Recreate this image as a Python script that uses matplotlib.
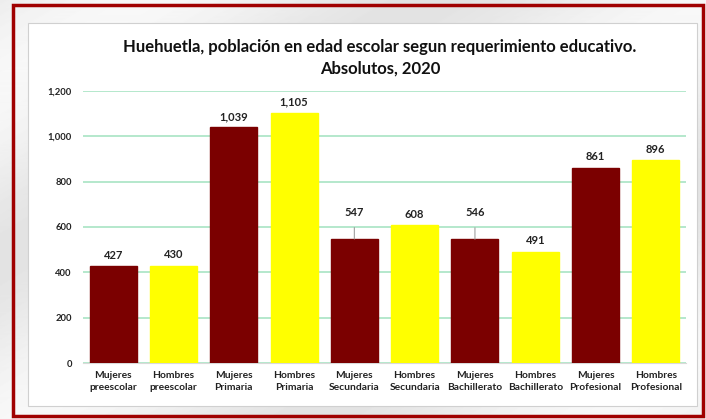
import numpy as np
import matplotlib.pyplot as plt
from matplotlib.patches import Rectangle

categorias = ["Mujeres\npreescolar", "Hombres\npreescolar", "Mujeres\nPrimaria", "Hombres\nPrimaria",
              "Mujeres\nSecundaria", "Hombres\nSecundaria", "Mujeres\nBachillerato", "Hombres\nBachillerato",
              "Mujeres\nProfesional", "Hombres\nProfesional"]
valores = [427, 430, 1039, 1105, 547, 608, 546, 491, 861, 896]
colores = ["#7b0000", "#ffff00"] * 5
# etiquetas que van despegadas con linea guia
guia = [False, False, False, False, True, False, True, False, False, False]

plt.rcParams['font.family'] = ['Lato', 'DejaVu Sans']

fig = plt.figure(figsize=(7.06, 4.19), dpi=100)
fig.patch.set_facecolor('#ececec')

# fondo con vetas grises suaves
bg = fig.add_axes([0, 0, 1, 1], zorder=-10)
yy, xx = np.mgrid[0:419, 0:706]
veta = 0.93 + 0.04 * np.sin((xx * 0.6 + yy) / 55.0)
bg.imshow(veta, cmap='gray', vmin=0, vmax=1, aspect='auto', extent=[0, 1, 0, 1])
bg.set_xlim(0, 1)
bg.set_ylim(0, 1)
bg.axis('off')

# marco rojo y caja blanca
bg.add_patch(Rectangle((13 / 706, 3 / 419), 690 / 706, 411 / 419, fill=False,
                       edgecolor='#a00000', linewidth=2.5, transform=bg.transAxes))
bg.add_patch(Rectangle((28 / 706, 13 / 419), 669 / 706, 383 / 419, facecolor='white',
                       edgecolor='#d0d0d0', linewidth=0.8, transform=bg.transAxes))

ax = fig.add_axes([83 / 706, 1 - 363 / 419, 603 / 706, 272 / 419])
x = np.arange(len(valores))
ax.bar(x, valores, width=0.78, color=colores, edgecolor=colores, zorder=3)

ax.set_ylim(0, 1200)
ax.set_xlim(-0.5, len(valores) - 0.5)
ax.set_yticks(range(0, 1201, 200))
ax.set_yticklabels([f"{v:,}" for v in range(0, 1201, 200)], fontsize=6.8, fontweight='bold', color='#222222')
ax.set_xticks(x)
ax.set_xticklabels(categorias, fontsize=7.4, fontweight='bold', color='#222222', linespacing=1.45)
ax.tick_params(length=0, pad=8)
ax.tick_params(axis='x', pad=6)
ax.grid(axis='y', color='#a8e4c4', linewidth=1.2, zorder=0)
for s in ['top', 'right', 'left']:
    ax.spines[s].set_visible(False)
ax.spines['bottom'].set_color('#d9d9d9')

for xi, v, g in zip(x, valores, guia):
    if g:
        ax.annotate(f"{v:,}", xy=(xi, v), xytext=(xi, v + 118), ha='center', va='center',
                    fontsize=8, fontweight='bold', color='#222222',
                    arrowprops=dict(arrowstyle='-', color='#a0a0a0', lw=0.8, shrinkA=5, shrinkB=0))
    else:
        ax.text(xi, v + 48, f"{v:,}", ha='center', va='center', fontsize=8,
                fontweight='bold', color='#222222')

fig.text(380 / 706, 1 - 47 / 419, "Huehuetla, población en edad escolar segun requerimiento educativo.",
         ha='center', va='center', fontsize=12, fontweight='bold', color='#111111')
fig.text(380 / 706, 1 - 69 / 419, "Absolutos, 2020",
         ha='center', va='center', fontsize=12, fontweight='bold', color='#111111')

fig.savefig('out.png', dpi=100, facecolor=fig.get_facecolor())
